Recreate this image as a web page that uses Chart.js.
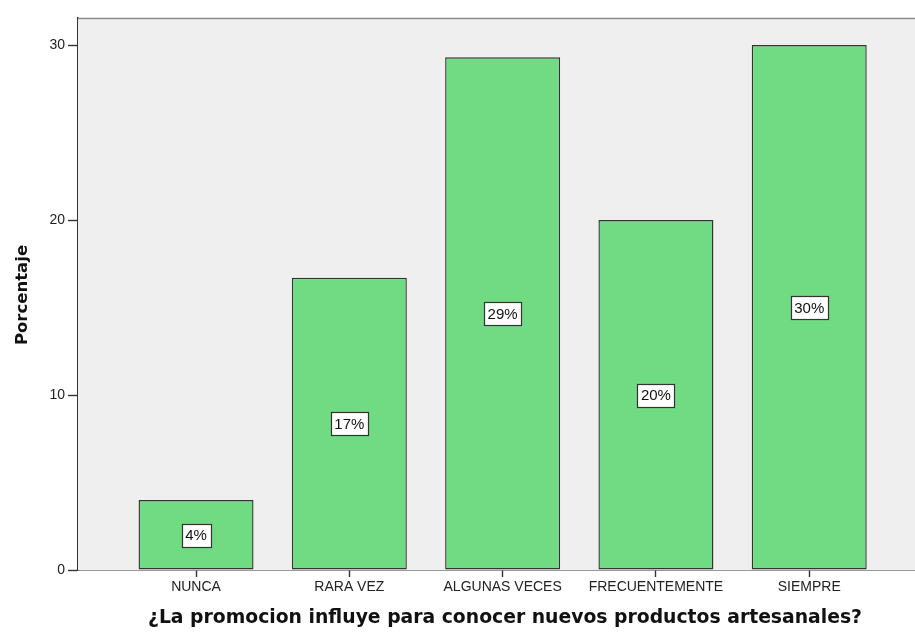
<!DOCTYPE html>
<html><head><meta charset="utf-8">
<script src="https://cdn.jsdelivr.net/npm/chart.js@4"></script>
<style>html,body{margin:0;padding:0;background:#fff}#wrap{width:915px;height:632px}</style>
</head><body><div id="wrap"><canvas id="c" width="915" height="632"></canvas></div>
<script>
const categories = ["NUNCA", "RARA VEZ", "ALGUNAS VECES", "FRECUENTEMENTE", "SIEMPRE"];
const percentages = [4.0, 16.7, 29.3, 20.0, 30.0];
const barLabels = ["4%", "17%", "29%", "20%", "30%"];
const yTicks = [0, 10, 20, 30];
const yTitle = "Porcentaje";
const xTitle = "¿La promocion influye para conocer nuevos productos artesanales?";

const FONT = "'Liberation Sans', Arial, sans-serif";
const TFONT = "'DejaVu Sans', Verdana, sans-serif";

const bgPlugin = {
  id: 'bg',
  beforeDatasetsDraw(chart) {
    const {ctx, chartArea: a} = chart;
    ctx.save();
    ctx.fillStyle = '#efefef';
    ctx.fillRect(a.left, a.top, a.right - a.left, a.bottom - a.top);
    ctx.strokeStyle = '#8a8a8a';
    ctx.lineWidth = 1.5;
    ctx.beginPath();
    ctx.moveTo(a.left, a.top + 0.5);
    ctx.lineTo(a.right, a.top + 0.5);
    ctx.stroke();
    ctx.restore();
  }
};

const labelPlugin = {
  id: 'lbl',
  afterDatasetsDraw(chart) {
    const {ctx} = chart;
    const meta = chart.getDatasetMeta(0);
    const ys = chart.scales.y;
    ctx.save();
    ctx.font = "15px " + FONT;
    ctx.textAlign = 'center';
    ctx.textBaseline = 'middle';
    meta.data.forEach((bar, i) => {
      const v = percentages[i];
      const cy = ys.getPixelForValue(v / 2);
      const cx = bar.x;
      const t = barLabels[i];
      const w = Math.round(ctx.measureText(t).width + 7);
      const h = 23;
      const x0 = Math.round(cx - w / 2) + 0.5, y0 = Math.round(cy - h / 2) + 0.5;
      ctx.fillStyle = '#ffffff';
      ctx.fillRect(x0, y0, w, h);
      ctx.strokeStyle = '#333333';
      ctx.lineWidth = 1.2;
      ctx.strokeRect(x0, y0, w, h);
      ctx.fillStyle = '#111';
      ctx.fillText(t, cx, cy + 1);
    });
    ctx.restore();
  }
};

const titlePlugin = {
  id: 'titles',
  afterDraw(chart) {
    const {ctx} = chart;
    ctx.save();
    ctx.fillStyle = '#111';
    ctx.font = "bold 18.8px " + TFONT;
    ctx.textAlign = 'center';
    ctx.textBaseline = 'middle';
    ctx.fillText(xTitle, 505, 618);
    ctx.translate(23, 295);
    ctx.rotate(-Math.PI / 2);
    ctx.font = "bold 16.5px " + TFONT;
    ctx.fillText(yTitle, 0, 0);
    ctx.restore();
  }
};

new Chart(document.getElementById('c'), {
  type: 'bar',
  data: {
    datasets: [{
      data: percentages.map((v, i) => ({x: i, y: v})),
      backgroundColor: '#70db83',
      borderColor: '#333333',
      borderWidth: 1.4,
      borderSkipped: false,
      barPercentage: 1,
      categoryPercentage: 0.75
    }]
  },
  options: {
    responsive: false,
    animation: false,
    events: [],
    layout: {padding: {top: 18, left: 0, right: 0, bottom: 0}},
    plugins: {legend: {display: false}, tooltip: {enabled: false}},
    scales: {
      x: {
        type: 'linear',
        offset: false,
        min: -0.77,
        max: 4.69,
        afterBuildTicks(s) { s.ticks = categories.map((c, i) => ({value: i})); },
        afterFit(s) { s.height = 62; },
        grid: {display: true, offset: false, drawOnChartArea: false, drawTicks: true, tickLength: 7, tickColor: '#333', tickWidth: 1.4},
        border: {display: true, color: '#333', width: 1.5},
        ticks: {
          autoSkip: false, maxRotation: 0, padding: 2,
          color: '#222', font: {family: FONT, size: 14},
          callback: (v) => categories[v]
        }
      },
      y: {
        min: 0,
        max: 31.55,
        afterBuildTicks(s) { s.ticks = yTicks.map(v => ({value: v})); },
        afterFit(s) { s.width = 78; },
        grid: {display: true, drawOnChartArea: false, drawTicks: true, tickLength: 10, tickColor: '#333', tickWidth: 1.4},
        border: {display: true, color: '#333', width: 1.5},
        ticks: {color: '#222', padding: 3, font: {family: FONT, size: 14}}
      }
    }
  },
  plugins: [bgPlugin, labelPlugin, titlePlugin]
});
</script>
</body></html>
